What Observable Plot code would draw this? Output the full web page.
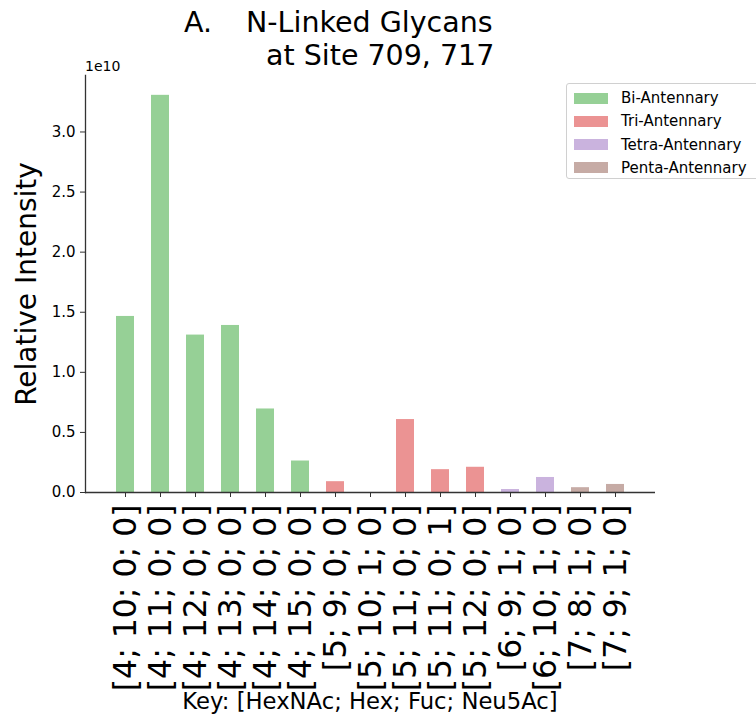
<!DOCTYPE html>
<html>
<head>
<meta charset="utf-8">
<script src="https://cdn.jsdelivr.net/npm/d3@7"></script>
<script src="https://cdn.jsdelivr.net/npm/@observablehq/plot@0.6"></script>
<style>
  html, body { margin: 0; padding: 0; background: #fff; }
  body { width: 756px; height: 725px; position: relative; overflow: hidden; font-family: "DejaVu Sans", sans-serif; }
  #chart { position: absolute; left: 0; top: 0; }
  .abs { position: absolute; white-space: pre; color: #000; line-height: 1; }
  #legend { position: absolute; left: 566px; top: 83px; width: 210px; height: 94px; border: 1px solid #d0d0d0; border-radius: 3px; background: rgba(255,255,255,0.8); }
  .lrow { position: absolute; left: 7px; height: 20px; display: flex; align-items: center; font-size: 15px; }
  .lpatch { width: 34px; height: 11px; margin-right: 13px; }
</style>
</head>
<body>
<div id="chart"></div>
<div class="abs" style="left:184px; top:9px; font-size:28.5px;">A.</div>
<div class="abs" style="left:246px; top:9px; font-size:28.5px;">N-Linked Glycans</div>
<div class="abs" style="left:266px; top:42px; font-size:28.5px;">at Site 709, 717</div>
<div class="abs" style="left:85px; top:59px; font-size:14px;">1e10</div>
<div id="legend"></div>
<div class="abs" id="caption" style="left:0; width:740px; top:690px; font-size:22.7px; text-align:center;">Key: [HexNAc; Hex; Fuc; Neu5Ac]</div>
<script>
// Glycan compositions [HexNAc; Hex; Fuc; Neu5Ac]
const compositions = [
  "[4; 10; 0; 0]", "[4; 11; 0; 0]", "[4; 12; 0; 0]", "[4; 13; 0; 0]",
  "[4; 14; 0; 0]", "[4; 15; 0; 0]", "[5; 9; 0; 0]", "[5; 10; 1; 0]",
  "[5; 11; 0; 0]", "[5; 11; 0; 1]", "[5; 12; 0; 0]", "[6; 9; 1; 0]",
  "[6; 10; 1; 0]", "[7; 8; 1; 0]", "[7; 9; 1; 0]"
];
// Relative intensity
const intensities = [
  1.465e10, 3.305e10, 1.31e10, 1.39e10,
  0.695e10, 0.262e10, 0.09e10, 0,
  0.607e10, 0.19e10, 0.21e10, 0.025e10,
  0.125e10, 0.04e10, 0.067e10
];
const antennarity = [
  "Bi-Antennary", "Bi-Antennary", "Bi-Antennary", "Bi-Antennary",
  "Bi-Antennary", "Bi-Antennary", "Tri-Antennary", "Tri-Antennary",
  "Tri-Antennary", "Tri-Antennary", "Tri-Antennary", "Tetra-Antennary",
  "Tetra-Antennary", "Penta-Antennary", "Penta-Antennary"
];
const groups = ["Bi-Antennary", "Tri-Antennary", "Tetra-Antennary", "Penta-Antennary"];
const groupColors = ["#96d096", "#eb9393", "#cab3de", "#c6aba5"];
const yTicks = [0, 0.5e10, 1.0e10, 1.5e10, 2.0e10, 2.5e10, 3.0e10];
const yLabel = "Relative Intensity";

const data = compositions.map((c, i) => ({composition: c, intensity: intensities[i], group: antennarity[i]}));

const plot = Plot.plot({
  width: 756,
  height: 725,
  marginTop: 75,
  marginBottom: 233,
  marginLeft: 85,
  marginRight: 101,
  style: {fontFamily: "DejaVu Sans, sans-serif", background: "transparent", color: "#000"},
  x: {domain: compositions, paddingInner: 0.5, paddingOuter: 0.733, label: null},
  y: {domain: [0, 3.47e10], label: null},
  color: {domain: groups, range: groupColors},
  marks: [
    Plot.barY(data, {x: "composition", y: "intensity", fill: "group"}),
    Plot.axisY({ticks: yTicks, tickFormat: d => (d / 1e10).toFixed(1), tickSize: 5, tickPadding: 5, fontSize: 15, label: null, stroke: "#333"}),
    Plot.axisX({tickRotate: -90, tickSize: 5, tickPadding: 7, fontSize: 31.5, label: null, stroke: "#333"}),
    Plot.frame({anchor: "left", stroke: "#333", strokeWidth: 1.3}),
    Plot.ruleY([0], {stroke: "#333", strokeWidth: 1.3}),
    Plot.text([yLabel], {frameAnchor: "left", textAnchor: "middle", rotate: -90, dx: -58, fontSize: 28, fill: "#000"})
  ]
});
document.getElementById("chart").appendChild(plot);

// Legend
const legend = document.getElementById("legend");
groups.forEach((g, i) => {
  const row = document.createElement("div");
  row.className = "lrow";
  row.style.top = (4 + i * 23.3) + "px";
  const p = document.createElement("div");
  p.className = "lpatch";
  p.style.background = groupColors[i];
  const t = document.createElement("span");
  t.textContent = g;
  row.appendChild(p);
  row.appendChild(t);
  legend.appendChild(row);
});
</script>
</body>
</html>
